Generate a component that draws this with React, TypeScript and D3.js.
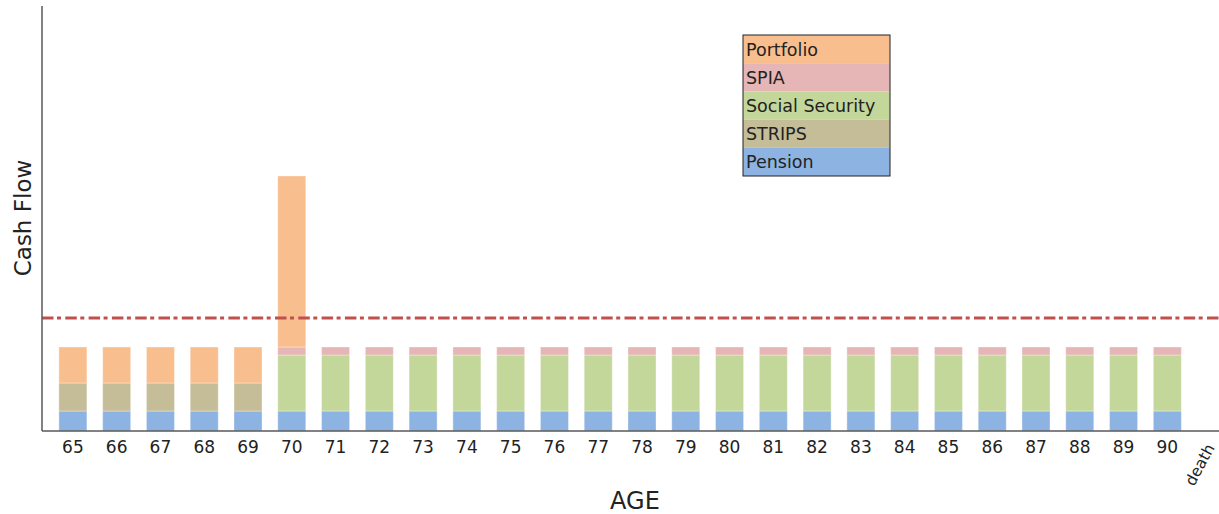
import * as d3 from "d3"
import React from "react"

const ages = ["65", "66", "67", "68", "69", "70", "71", "72", "73", "74", "75", "76", "77", "78", "79", "80", "81", "82", "83", "84", "85", "86", "87", "88", "89", "90", "death"]

// cash flow by source (arbitrary units)
const pension = [20, 20, 20, 20, 20, 20, 20, 20, 20, 20, 20, 20, 20, 20, 20, 20, 20, 20, 20, 20, 20, 20, 20, 20, 20, 20, 0]
const strips = [28, 28, 28, 28, 28, 0, 0, 0, 0, 0, 0, 0, 0, 0, 0, 0, 0, 0, 0, 0, 0, 0, 0, 0, 0, 0, 0]
const socialSecurity = [0, 0, 0, 0, 0, 56, 56, 56, 56, 56, 56, 56, 56, 56, 56, 56, 56, 56, 56, 56, 56, 56, 56, 56, 56, 56, 0]
const spia = [0, 0, 0, 0, 0, 8, 8, 8, 8, 8, 8, 8, 8, 8, 8, 8, 8, 8, 8, 8, 8, 8, 8, 8, 8, 8, 0]
const portfolio = [36, 36, 36, 36, 36, 171, 0, 0, 0, 0, 0, 0, 0, 0, 0, 0, 0, 0, 0, 0, 0, 0, 0, 0, 0, 0, 0]
const target = 113

const seriesNames = ["Pension", "STRIPS", "Social Security", "SPIA", "Portfolio"]
const colors = ["#8db3e2", "#c4bd97", "#c4d79b", "#e6b5b5", "#f9be8e"]

const width = 1219,
  height = 514
const font = "'DejaVu Sans', sans-serif"

export default function App() {
  const rows = ages.map((a, i) => ({
    age: a,
    Pension: pension[i],
    STRIPS: strips[i],
    "Social Security": socialSecurity[i],
    SPIA: spia[i],
    Portfolio: portfolio[i],
  }))
  const stacked = d3.stack<any>().keys(seriesNames)(rows)

  const x = d3.scaleBand().domain(ages).range([51, 1233]).paddingInner(0.36).paddingOuter(0.18)
  const y = d3.scaleLinear().domain([0, 425]).range([431, 6])

  const legendX = 743,
    legendY = 35,
    rowH = 28.2
  const legendOrder = [...seriesNames].reverse()

  return (
    <svg width={width} height={height} style={{ position: "absolute", left: 0, top: 0, background: "#fff" }}>
      {stacked.map((s, si) => (
        <g key={s.key} fill={colors[si]}>
          {s.map((d, i) =>
            d[1] - d[0] > 0 ? (
              <rect
                key={i}
                x={x(ages[i])}
                y={y(d[1])}
                width={x.bandwidth()}
                height={y(d[0]) - y(d[1])}
                stroke="#ffffff"
                strokeOpacity={0.35}
                strokeWidth={1}
              />
            ) : null
          )}
        </g>
      ))}

      {/* target income line */}
      <line
        x1={42}
        x2={width}
        y1={y(target)}
        y2={y(target)}
        stroke="#c0504d"
        strokeWidth={3}
        strokeDasharray="11.5,3.5,4,4.3"
      />

      <line x1={42} x2={42} y1={6} y2={431} stroke="#595959" strokeWidth={1.5} />
      <line x1={42} x2={width} y1={431} y2={431} stroke="#595959" strokeWidth={1.5} />

      {ages.map((a) =>
        a === "death" ? (
          <text
            key={a}
            transform="translate(1194,487) rotate(-62)"
            fontFamily={font}
            fontSize={15.5}
            fill="#222"
          >
            {a}
          </text>
        ) : (
          <text
            key={a}
            x={x(a)! + x.bandwidth() / 2}
            y={453}
            textAnchor="middle"
            fontFamily={font}
            fontSize={17}
            fill="#222"
          >
            {a}
          </text>
        )
      )}

      <text x={635} y={509} textAnchor="middle" fontFamily={font} fontSize={24} fill="#222">
        AGE
      </text>
      <text
        transform="translate(31,218) rotate(-90)"
        textAnchor="middle"
        fontFamily={font}
        fontSize={23}
        fill="#222"
      >
        Cash Flow
      </text>

      <g>
        {legendOrder.map((name, i) => (
          <g key={name}>
            <rect
              x={legendX}
              y={legendY + i * rowH}
              width={147}
              height={rowH}
              fill={colors[seriesNames.indexOf(name)]}
            />
            <text
              x={legendX + 3}
              y={legendY + i * rowH + 20.5}
              fontFamily={font}
              fontSize={17.5}
              fill="#222"
            >
              {name}
            </text>
          </g>
        ))}
        <rect x={legendX} y={legendY} width={147} height={rowH * 5} fill="none" stroke="#222" strokeWidth={1} />
      </g>
    </svg>
  )
}
